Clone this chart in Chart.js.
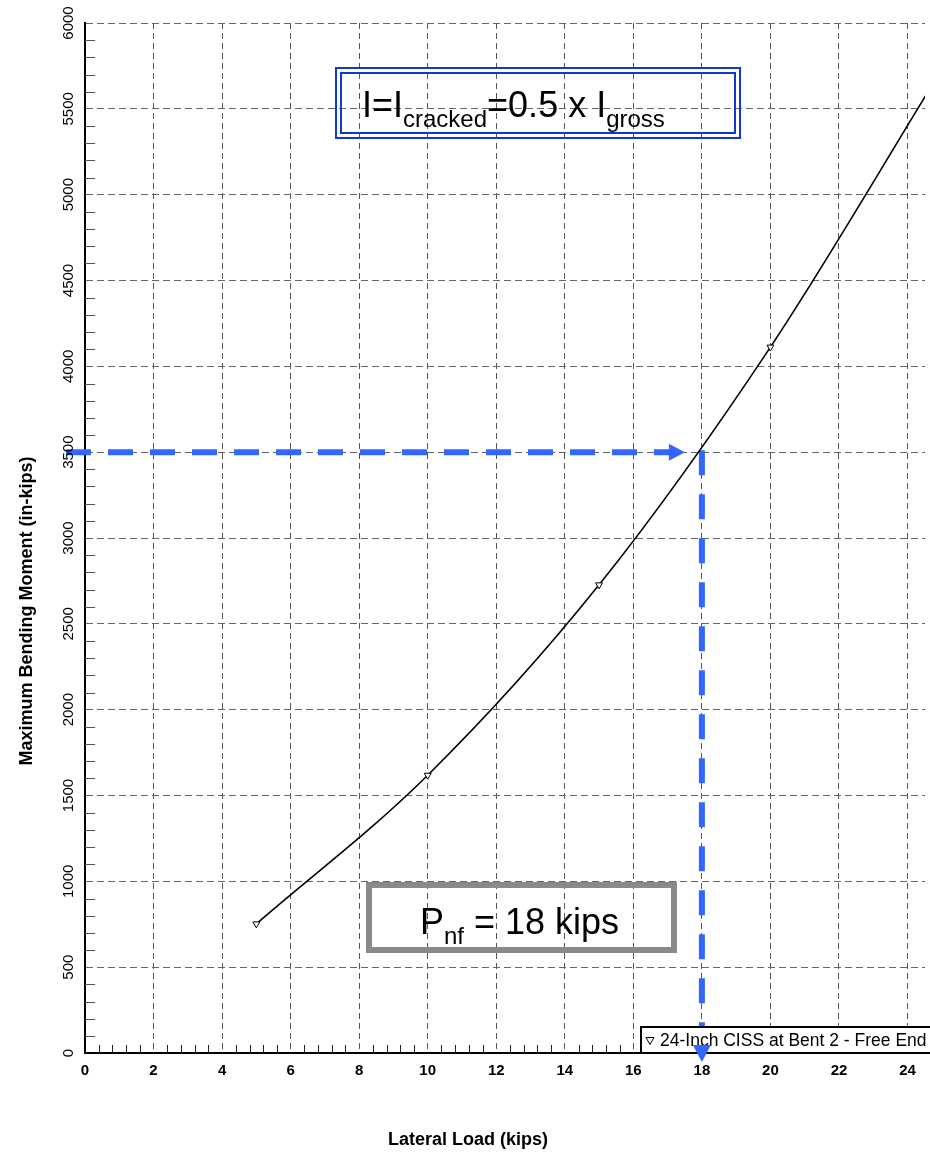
<!DOCTYPE html>
<html>
<head>
<meta charset="utf-8">
<script src="https://cdn.jsdelivr.net/npm/chart.js@4/dist/chart.umd.min.js"></script>
<style>
  body { margin: 0; background: #fff; }
  #wrap { position: relative; width: 930px; height: 1153px; overflow: hidden; }
  .note { position: absolute; font-family: "Liberation Sans", Arial, sans-serif; color: #000; white-space: nowrap; }
  .note .sub { position: relative; font-size: 24px; top: 10px; }
  #boxI { position: absolute; left: 335px; top: 67px; width: 406px; height: 72px; box-sizing: border-box; border: 7px double #1238d0; }
  #boxP { position: absolute; left: 366px; top: 882px; width: 311px; height: 71px; box-sizing: border-box; border: 6px solid #8a8a8a; }
</style>
</head>
<body>
<div id="wrap">
  <canvas id="chart" width="930" height="1153"></canvas>
  <div id="boxI"></div>
  <div class="note" style="left:362px; top:87px; font-size:36px; line-height:36px;">I=I<span class="sub">cracked</span>=0.5 x I<span class="sub">gross</span></div>
  <div id="boxP"></div>
  <div class="note" style="left:420px; top:904px; font-size:36px; line-height:36px;">P<span class="sub">nf</span> = 18 kips</div>
</div>
<script>
// values
const loads = [5, 10, 15, 20, 25];            // kips
const moments = [752, 1618, 2727, 4112, 5730]; // in-kips
const xTicks = [0, 2, 4, 6, 8, 10, 12, 14, 16, 18, 20, 22, 24];
const yTicks = [0, 500, 1000, 1500, 2000, 2500, 3000, 3500, 4000, 4500, 5000, 5500, 6000];
const pnf = 18;       // kips
const mTarget = 3500; // in-kips
const seriesName = '24-Inch CISS at Bent 2 - Free End';

const FONT = '"Liberation Sans", Arial, sans-serif';
const BLUE = '#3366ff';

function tri(ctx, x, y, w, h) {
  // downward triangle, apex at (x, y+h/2)
  ctx.beginPath();
  ctx.moveTo(x - w / 2, y - h / 2);
  ctx.lineTo(x + w / 2, y - h / 2);
  ctx.lineTo(x, y + h / 2);
  ctx.closePath();
}

const overlay = {
  id: 'overlay',
  beforeDatasetsDraw(chart) {
    const ctx = chart.ctx, xs = chart.scales.x, ys = chart.scales.y;
    const a = chart.chartArea;
    ctx.save();
    // minor ticks, pointing inward
    ctx.lineWidth = 1;
    ctx.strokeStyle = '#555';
    for (let v = 100; v < 6000; v += 100) {
      if (v % 500 === 0) continue;
      const y = Math.round(ys.getPixelForValue(v)) + 0.5;
      ctx.beginPath(); ctx.moveTo(a.left, y); ctx.lineTo(a.left + 10, y); ctx.stroke();
    }
    ctx.strokeStyle = '#222';
    for (let i = 1; i * 0.4 < 24.5; i++) {
      if (i % 5 === 0) continue;
      const x = Math.round(xs.getPixelForValue(i * 0.4)) + 0.5;
      ctx.beginPath(); ctx.moveTo(x, a.bottom); ctx.lineTo(x, a.bottom - 8); ctx.stroke();
    }
    // blue guide lines
    const px = xs.getPixelForValue(pnf), py = ys.getPixelForValue(mTarget);
    ctx.strokeStyle = BLUE;
    ctx.lineWidth = 6;
    ctx.setLineDash([25, 17]);
    ctx.beginPath(); ctx.moveTo(66, py); ctx.lineTo(px - 17, py); ctx.stroke();
    ctx.setLineDash([25, 19]);
    ctx.beginPath(); ctx.moveTo(px, py - 2); ctx.lineTo(px, a.bottom - 10); ctx.stroke();
    ctx.restore();
  },
  afterDatasetsDraw(chart) {
    const ctx = chart.ctx, xs = chart.scales.x, ys = chart.scales.y;
    const a = chart.chartArea;
    const px = xs.getPixelForValue(pnf), py = ys.getPixelForValue(mTarget);
    ctx.save();
    // legend box
    ctx.fillStyle = '#fff';
    ctx.fillRect(640, a.bottom - 26, 300, 26);
    ctx.strokeStyle = '#000';
    ctx.lineWidth = 2;
    ctx.strokeRect(641, a.bottom - 26, 300, 26);
    ctx.lineWidth = 1;
    tri(ctx, 650, a.bottom - 12, 8, 7);
    ctx.stroke();
    ctx.fillStyle = '#000';
    ctx.font = '17.5px ' + FONT;
    ctx.textBaseline = 'alphabetic';
    ctx.textAlign = 'left';
    ctx.fillText(seriesName, 660, a.bottom - 7);
    // arrow heads
    ctx.fillStyle = BLUE;
    ctx.beginPath();
    ctx.moveTo(px - 17, py); ctx.lineTo(px - 33, py - 8.5); ctx.lineTo(px - 33, py + 8.5); ctx.closePath(); ctx.fill();
    ctx.beginPath();
    ctx.moveTo(px, a.bottom + 9); ctx.lineTo(px - 9, a.bottom - 8); ctx.lineTo(px + 9, a.bottom - 8); ctx.closePath(); ctx.fill();
    ctx.restore();
  },
  afterDraw(chart) {
    const ctx = chart.ctx, xs = chart.scales.x, ys = chart.scales.y;
    ctx.save();
    ctx.fillStyle = '#000';
    ctx.textAlign = 'center';
    ctx.textBaseline = 'middle';
    ctx.font = 'bold 15px ' + FONT;
    xTicks.forEach(v => ctx.fillText(String(v), xs.getPixelForValue(v), 1071));
    ctx.font = '15px ' + FONT;
    yTicks.forEach(v => {
      ctx.save();
      ctx.translate(69, ys.getPixelForValue(v));
      ctx.rotate(-Math.PI / 2);
      ctx.fillText(String(v), 0, 0);
      ctx.restore();
    });
    ctx.font = 'bold 18px ' + FONT;
    ctx.fillText('Lateral Load (kips)', 468, 1140);
    ctx.save();
    ctx.translate(27, 611);
    ctx.rotate(-Math.PI / 2);
    ctx.fillText('Maximum Bending Moment (in-kips)', 0, 0);
    ctx.restore();
    ctx.restore();
  }
};

new Chart(document.getElementById('chart'), {
  type: 'line',
  data: {
    datasets: [{
      label: seriesName,
      data: loads.map((x, i) => ({ x: x, y: moments[i] })),
      borderColor: '#000',
      borderWidth: 1.6,
      cubicInterpolationMode: 'monotone',
      pointStyle: 'triangle',
      rotation: 180,
      pointRadius: 4,
      pointBackgroundColor: '#fff',
      pointBorderColor: '#000',
      pointBorderWidth: 1,
      fill: false,
    }],
  },
  options: {
    responsive: false,
    animation: false,
    devicePixelRatio: 1,
    layout: { padding: { top: 23, left: 0, right: 0, bottom: 0 } },
    plugins: { legend: { display: false }, tooltip: { enabled: false } },
    scales: {
      x: {
        type: 'linear',
        min: 0,
        max: 24.51,
        ticks: { stepSize: 2, display: false, includeBounds: false },
        grid: { color: '#555', lineWidth: 1, drawTicks: false },
        border: { display: true, color: '#000', width: 2, dash: [6, 4] },
        afterFit: s => { s.height = 100; },
      },
      y: {
        min: 0,
        max: 6000,
        ticks: { stepSize: 500, display: false },
        grid: { color: '#666', lineWidth: 1, drawTicks: false },
        border: { display: true, color: '#000', width: 2, dash: [7, 4] },
        afterFit: s => { s.width = 85; },
      },
    },
  },
  plugins: [overlay],
});
</script>
</body>
</html>
